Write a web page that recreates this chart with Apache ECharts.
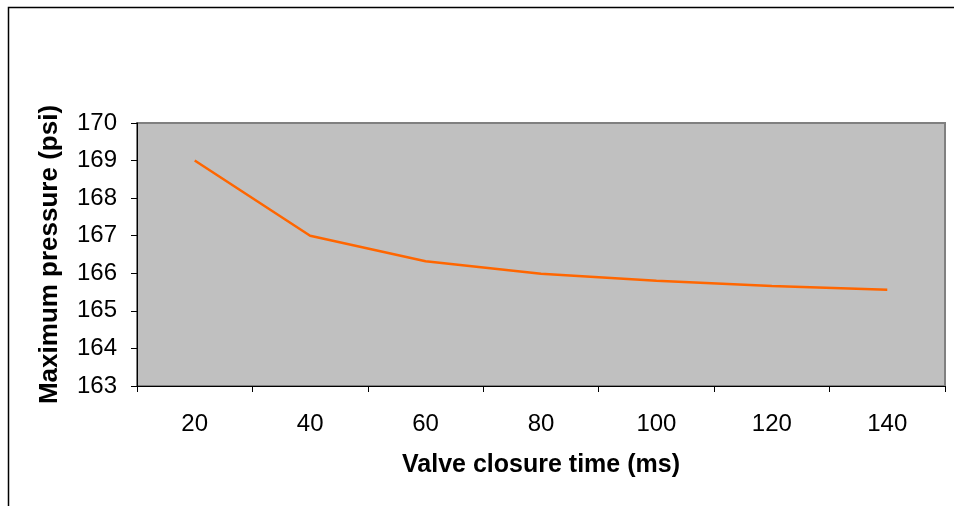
<!DOCTYPE html>
<html>
<head>
<meta charset="utf-8">
<script src="https://cdn.jsdelivr.net/npm/echarts@6/dist/echarts.min.js"></script>
<style>
  html, body { margin: 0; padding: 0; background: #fff; }
  #chart { width: 954px; height: 506px; }
</style>
</head>
<body>
<div id="chart"></div>
<script>
// Valve closure time (ms) on the category axis
const closureTimes = ['20', '40', '60', '80', '100', '120', '140'];
// Peak pressure reached for each closure time (psi)
const maxPressure = [169.0, 167.0, 166.32, 165.99, 165.8, 165.66, 165.56];
// Pressure axis range
const yMin = 163;
const yMax = 170;
const yStep = 1;

const chart = echarts.init(document.getElementById('chart'), null, { renderer: 'canvas' });
const font = '"Liberation Sans", Arial, sans-serif';

chart.setOption({
  animation: false,
  backgroundColor: '#ffffff',
  graphic: [{
    type: 'rect',
    shape: { x: 8.5, y: 7.5, width: 980, height: 520 },
    style: { fill: 'none', stroke: '#000000', lineWidth: 1.5 },
    silent: true
  }],
  grid: {
    left: 137, right: 9, top: 123, bottom: 120,
    show: true,
    backgroundColor: '#c0c0c0',
    borderColor: '#808080',
    borderWidth: 2
  },
  xAxis: {
    type: 'category',
    data: closureTimes,
    boundaryGap: true,
    name: 'Valve closure time (ms)',
    nameLocation: 'middle',
    nameGap: 67,
    nameTextStyle: { fontFamily: font, fontSize: 25, fontWeight: 'bold', color: '#000' },
    axisLine: { lineStyle: { color: '#000', width: 1 } },
    axisTick: { show: true, alignWithLabel: false, length: 6, lineStyle: { color: '#000' } },
    axisLabel: { fontFamily: font, fontSize: 24, color: '#000', margin: 26 },
    splitLine: { show: false }
  },
  yAxis: {
    type: 'value',
    min: yMin,
    max: yMax,
    interval: yStep,
    name: 'Maximum pressure (psi)',
    nameLocation: 'middle',
    nameGap: 74,
    nameRotate: 90,
    nameTextStyle: { fontFamily: font, fontSize: 26, fontWeight: 'bold', color: '#000' },
    axisLine: { show: true, lineStyle: { color: '#000', width: 1 } },
    axisTick: { show: true, inside: false, length: 6, lineStyle: { color: '#000' } },
    axisLabel: { fontFamily: font, fontSize: 24, color: '#000', margin: 20 },
    splitLine: { show: false }
  },
  series: [{
    type: 'line',
    data: maxPressure,
    symbol: 'none',
    lineStyle: { color: '#ff6600', width: 2.5 },
    itemStyle: { color: '#ff6600' }
  }]
});
</script>
</body>
</html>
